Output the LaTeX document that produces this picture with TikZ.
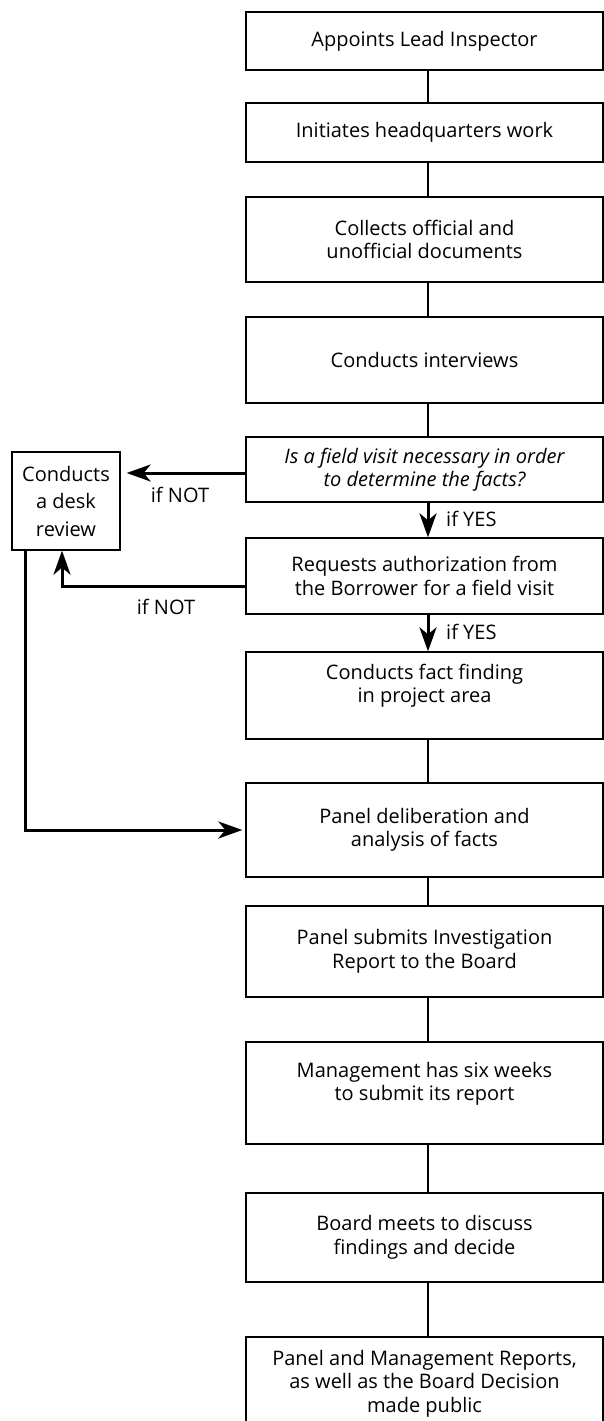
\documentclass[tikz,border=0pt]{standalone}
\usepackage{fontspec}
\setmainfont{Open Sans}
\usetikzlibrary{arrows.meta}
\begin{document}
\begin{tikzpicture}[x=1pt,y=-1pt,
  txt/.style={font=\fontsize{20}{23.5}\selectfont},
  box/.style={draw, line width=1.3pt, minimum width=357pt, inner sep=0pt, align=center, txt},
  deskbox/.style={draw, line width=1.3pt, minimum width=108pt, minimum height=98pt, inner sep=0pt, align=center, font=\fontsize{20}{27.5}\selectfont},
  conn/.style={line width=2.4pt},
  arr/.style={line width=3pt, -{Stealth[length=24pt,width=17pt,inset=7pt]}},
  lbl/.style={txt, inner sep=0pt, align=center}]
\useasboundingbox (0,0) rectangle (604,1421);
\node[box, minimum height=58pt] (b1) at (424.5,41) {Appoints Lead Inspector};
\node[box, minimum height=59pt] (b2) at (424.5,132.5) {Initiates headquarters work};
\node[box, minimum height=85pt] (b3) at (424.5,239.5) {Collects official and\\unofficial documents};
\node[box, minimum height=86pt] (b4) at (424.5,360) {Conducts interviews};
\node[box, minimum height=65pt] (b5) at (424.5,469.5) {\itshape Is a field visit necessary in order\\\itshape to determine the facts?};
\node[box, minimum height=76pt] (b6) at (424.5,576) {Requests authorization from\\the Borrower for a field visit};
\node[box, minimum height=87pt, label={[lbl, yshift=10pt]center:{Conducts fact finding\\in project area}}] (b7) at (424.5,695.5) {};
\node[box, minimum height=94pt] (b8) at (424.5,830) {Panel deliberation and\\analysis of facts};
\node[box, minimum height=91pt] (b9) at (424.5,951.5) {Panel submits Investigation\\Report to the Board};
\node[box, minimum height=102pt, label={[lbl, yshift=9pt]center:{Management has six weeks\\to submit its report}}] (b10) at (424.5,1093) {};
\node[box, minimum height=89pt] (b11) at (424.5,1237.5) {Board meets to discuss\\findings and decide};
\node[box, minimum height=93pt] (b12) at (424.5,1383.5) {Panel and Management Reports,\\as well as the Board Decision\\made public};
\node[deskbox] (desk) at (66,501) {Conducts\\a desk\\review};

\coordinate (xc) at (428,0);
\draw[conn] (b1.south -| xc) -- (b2.north -| xc);
\draw[conn] (b2.south -| xc) -- (b3.north -| xc);
\draw[conn] (b3.south -| xc) -- (b4.north -| xc);
\draw[conn] (b4.south -| xc) -- (b5.north -| xc);
\draw[arr] (b5.south -| xc) -- (b6.north -| xc);
\draw[arr] (b6.south -| xc) -- (b7.north -| xc);
\draw[conn] (b7.south -| xc) -- (b8.north -| xc);
\draw[conn] (b8.south -| xc) -- (b9.north -| xc);
\draw[conn] (b9.south -| xc) -- (b10.north -| xc);
\draw[conn] (b10.south -| xc) -- (b11.north -| xc);
\draw[conn] (b11.south -| xc) -- (b12.north -| xc);

\node[lbl, anchor=west] (yes1) at (446,519) {if YES};
\node[lbl, anchor=west] (yes2) at (446,632) {if YES};

\coordinate (p1) at (0,473);
\draw[arr, shorten >=6pt] (b5.west |- p1) -- (desk.east |- p1);
\node[lbl] (no1) at (180,495) {if NOT};

\coordinate (p2) at (62,586);
\draw[arr] (b6.west |- p2) -- (p2) -- (p2 |- desk.south);
\node[lbl] (no2) at (166,607) {if NOT};

\coordinate (p3) at (25,830);
\draw[arr, shorten >=3pt] (p3 |- desk.south) -- (p3) -- (b8.west |- p3);
\end{tikzpicture}
\end{document}
